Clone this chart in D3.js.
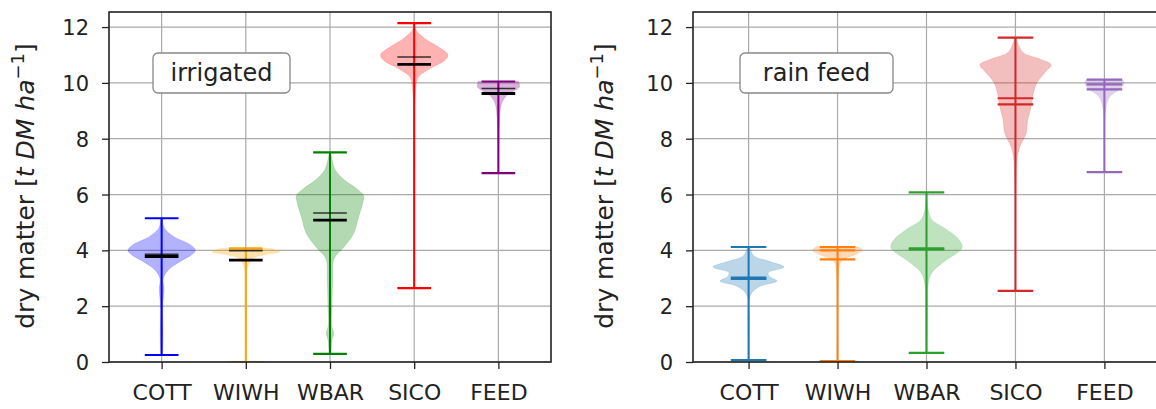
<!DOCTYPE html>
<html lang="en">
<head>
<meta charset="UTF-8">
<title>violin</title>
<style>
  * { margin: 0; padding: 0; }
  body { background: #fff; }
  svg text { font-family: "DejaVu Sans", sans-serif; fill: #222; }
</style>
</head>
<body>
<div id="container"></div>
<script src="https://cdn.jsdelivr.net/npm/d3@7"></script>
<script>
// categories and ticks
var crops = ['COTT', 'WIWH', 'WBAR', 'SICO', 'FEED']
var yTicks = [0, 2, 4, 6, 8, 10, 12]

// irrigated panel (t DM / ha)
var irrMin = [0.25, 0.0, 0.29, 2.65, 6.77]
var irrMax = [5.15, 4.07, 7.51, 12.14, 10.05]
var irrUpper = [3.86, 3.99, 5.34, 10.93, 9.8]
var irrLower = [3.78, 3.65, 5.08, 10.66, 9.62]
// violin outline: [value, relative half width]
var irrShapes = [
  [[0.25,0.02],[1.0,0.04],[2.0,0.03],[2.6,0.07],[3.0,0.05],[3.3,0.2],[3.6,0.55],[3.85,0.9],[4.0,1.0],[4.2,0.85],[4.5,0.35],[4.8,0.08],[5.15,0.02]],
  [[0.0,0.01],[2.5,0.02],[3.4,0.05],[3.7,0.2],[3.85,0.6],[3.95,1.0],[4.07,0.75]],
  [[0.29,0.03],[0.8,0.06],[1.04,0.11],[1.3,0.05],[2.0,0.06],[3.0,0.08],[3.7,0.12],[4.1,0.4],[4.6,0.7],[5.2,0.85],[5.7,0.97],[5.95,1.0],[6.2,0.8],[6.5,0.45],[6.9,0.15],[7.51,0.02]],
  [[2.65,0.01],[8.0,0.015],[9.5,0.03],[10.2,0.12],[10.5,0.45],[10.8,0.9],[11.0,1.0],[11.3,0.7],[11.6,0.3],[11.9,0.05],[12.14,0.01]],
  [[6.77,0.01],[8.5,0.03],[9.2,0.08],[9.4,0.15],[9.6,0.3],[9.85,0.62],[10.05,0.6]]
]

// rain feed panel
var rainMin = [0.07, 0.03, 0.33, 2.55, 6.8]
var rainMax = [4.12, 4.12, 6.08, 11.62, 10.12]
var rainMedian = [3.02, 4.0, 4.07, 9.45, 9.95]
var rainMean = [2.98, 3.68, 4.03, 9.23, 9.77]
var rainShapes = [
  [[0.07,0.01],[1.5,0.02],[2.4,0.05],[2.7,0.3],[2.9,0.8],[3.05,0.6],[3.2,0.55],[3.4,1.0],[3.6,0.6],[3.8,0.15],[4.12,0.03]],
  [[0.03,0.01],[3.0,0.02],[3.6,0.1],[3.85,0.5],[4.0,0.7],[4.12,0.6]],
  [[0.33,0.02],[2.0,0.03],[2.8,0.05],[3.2,0.15],[3.6,0.5],[4.1,1.0],[4.4,0.9],[4.8,0.5],[5.1,0.15],[5.5,0.04],[6.08,0.01]],
  [[2.55,0.01],[6.5,0.02],[7.3,0.05],[7.7,0.12],[8.2,0.3],[8.7,0.35],[9.2,0.45],[9.6,0.5],[10.0,0.6],[10.4,0.85],[10.65,1.0],[10.85,0.7],[11.1,0.2],[11.62,0.02]],
  [[6.8,0.01],[9.0,0.03],[9.5,0.15],[9.8,0.45],[10.0,0.55],[10.12,0.5]]
]

var irrColors = ['#0000ff', '#ffa500', '#008000', '#ff0000', '#800080']
var rainColors = ['#1f77b4', '#ff7f0e', '#2ca02c', '#d62728', '#9467bd']

var W = 1156, H = 409
var svg = d3.select('#container').append('svg').attr('width', W).attr('height', H)

function drawPanel(p) {
  var x = d3.scaleLinear().domain([0.375, 5.625]).range([p.left, p.right])
  var y = d3.scaleLinear().domain([0, 12.54]).range([362, 12])
  var half = x(1.4) - x(1)
  var capHalf = x(1.2) - x(1)

  var g = svg.append('g')
  var clipId = 'clip' + p.id
  g.append('clipPath').attr('id', clipId).append('rect')
    .attr('x', p.left).attr('y', 12).attr('width', p.right - p.left).attr('height', 350)

  // grid
  g.selectAll('.hg').data(yTicks).enter().append('line')
    .attr('x1', p.left).attr('x2', p.right).attr('y1', d => y(d)).attr('y2', d => y(d))
    .attr('stroke', '#aaa').attr('stroke-width', 1.2)
  g.selectAll('.vg').data(crops).enter().append('line')
    .attr('x1', (d, i) => x(i + 1)).attr('x2', (d, i) => x(i + 1)).attr('y1', 12).attr('y2', 362)
    .attr('stroke', '#aaa').attr('stroke-width', 1.2)

  var plot = g.append('g').attr('clip-path', 'url(#' + clipId + ')')

  crops.forEach(function(c, i) {
    var cx = x(i + 1), col = p.colors[i]
    var area = d3.area()
      .y(d => y(d[0]))
      .x0(d => cx - d[1] * half)
      .x1(d => cx + d[1] * half)
      .curve(d3.curveCatmullRom)
    plot.append('path').attr('d', area(p.shapes[i]))
      .attr('fill', col).attr('fill-opacity', 0.3)
      .attr('stroke', col).attr('stroke-opacity', 0.15)

    plot.append('line').attr('x1', cx).attr('x2', cx)
      .attr('y1', y(p.mins[i])).attr('y2', y(p.maxs[i]))
      .attr('stroke', col).attr('stroke-width', 2)
    ;[p.mins[i], p.maxs[i]].forEach(function(v) {
      plot.append('line').attr('x1', cx - capHalf).attr('x2', cx + capHalf)
        .attr('y1', y(v)).attr('y2', y(v))
        .attr('stroke', col).attr('stroke-width', 2.2)
    })
    plot.append('line').attr('x1', cx - capHalf).attr('x2', cx + capHalf)
      .attr('y1', y(p.lineA[i])).attr('y2', y(p.lineA[i]))
      .attr('stroke', p.lineAColor || col).attr('stroke-opacity', p.lineAColor ? 0.75 : 1)
      .attr('stroke-width', p.lineAColor ? 1.6 : 2.2)
    plot.append('line').attr('x1', cx - capHalf).attr('x2', cx + capHalf)
      .attr('y1', y(p.lineB[i])).attr('y2', y(p.lineB[i]))
      .attr('stroke', p.lineBColor || col).attr('stroke-width', p.lineBColor ? 2.8 : 2.2)
  })

  // frame
  g.append('rect').attr('x', p.left).attr('y', 12)
    .attr('width', p.right - p.left).attr('height', 350)
    .attr('fill', 'none').attr('stroke', '#222').attr('stroke-width', 1.6)

  // axes
  var ya = g.append('g').attr('transform', 'translate(' + p.left + ',0)')
    .call(d3.axisLeft(y).tickValues(yTicks).tickSize(7).tickPadding(13).tickFormat(d3.format('d')))
  ya.select('.domain').remove()
  ya.selectAll('text').style('font-size', '21px').attr('dy', '0.36em')
  ya.selectAll('line').attr('stroke', '#222').attr('stroke-width', 1.3)

  var xa = g.append('g').attr('transform', 'translate(0,362)')
    .call(d3.axisBottom(x).tickValues([1, 2, 3, 4, 5]).tickSize(7).tickPadding(15).tickFormat((d, i) => crops[i]))
  xa.select('.domain').remove()
  xa.selectAll('text').style('font-size', '22px')
  xa.selectAll('line').attr('stroke', '#222').attr('stroke-width', 1.3)

  // y label
  var lab = g.append('text')
    .attr('transform', 'translate(' + p.labelX + ',186) rotate(-90)')
    .attr('text-anchor', 'middle').style('font-size', '25px')
  lab.append('tspan').text('dry matter [')
  lab.append('tspan').style('font-style', 'italic').text('t DM ha')
  lab.append('tspan').attr('dy', -10).style('font-size', '18px').text('\u22121')
  lab.append('tspan').attr('dy', 10).text(']')

  // annotation box
  g.append('rect').attr('x', p.box[0]).attr('y', 53).attr('width', p.box[1]).attr('height', 40)
    .attr('rx', 5).attr('fill', '#fff').attr('stroke', '#888').attr('stroke-width', 1.3)
  g.append('text').attr('x', p.box[0] + p.box[1] / 2).attr('y', 81)
    .attr('text-anchor', 'middle').style('font-size', '24px').text(p.title)
}

drawPanel({
  id: 1, left: 109, right: 551, labelX: 34, colors: irrColors, shapes: irrShapes,
  mins: irrMin, maxs: irrMax, lineA: irrUpper, lineB: irrLower,
  lineAColor: '#000', lineBColor: '#000', box: [153, 137], title: 'irrigated'
})
drawPanel({
  id: 2, left: 693, right: 1160, labelX: 613, colors: rainColors, shapes: rainShapes,
  mins: rainMin, maxs: rainMax, lineA: rainMedian, lineB: rainMean,
  box: [740, 153], title: 'rain feed'
})
</script>
</body>
</html>
